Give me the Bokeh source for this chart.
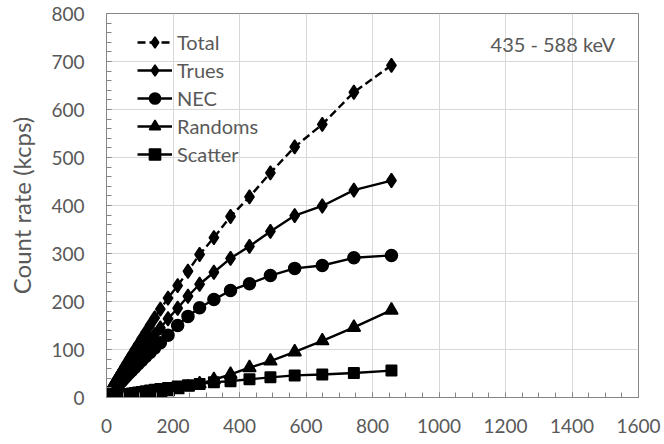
from bokeh.plotting import figure
from bokeh.models import Range1d, SingleIntervalTicker, Legend, LegendItem, Label
from bokeh.embed import file_html
from bokeh.resources import INLINE

# ---- data ----
x_vals = [857, 744, 649, 566, 493, 430, 373, 323, 280, 245, 214, 185, 162, 145, 131,
          118, 106, 95, 85, 76, 68, 61, 54, 48, 43, 38, 34, 30, 26, 23, 20, 17, 15,
          13, 11, 9, 7, 5.5, 4, 3, 2, 1]
total = [692, 636, 569, 522, 468, 418, 377, 333, 298, 263, 233, 207, 184, 166, 150.7,
         136.3, 123, 110.7, 99.5, 89.3, 80.2, 72, 64, 57.1, 51.2, 45.2, 40.6, 36, 31.2,
         27.6, 24, 20.4, 18, 15.6, 13.2, 10.8, 8.4, 6.6, 4.8, 3.6, 2.4, 1.2]
trues = [452, 432, 399, 379, 346, 315, 290, 261, 236, 211, 186, 164, 145, 131, 119,
         108, 97.5, 87.9, 79, 71, 64, 57.6, 51, 45.4, 40.7, 36.1, 32.3, 28.5, 24.7,
         21.9, 19, 16.2, 14.3, 12.4, 10.5, 8.6, 6.7, 5.2, 3.8, 2.9, 1.9, 1.0]
nec = [296, 291, 275, 269, 254, 237, 223, 204, 187, 169, 150, 129.9, 114.3, 103.4, 94,
       85.6, 77.3, 69.8, 62.7, 56.5, 51.1, 46.1, 40.6, 36.1, 32.4, 28.8, 25.7, 22.6,
       19.6, 17.4, 15, 12.9, 11.4, 9.9, 8.4, 6.8, 5.3, 4.1, 3.0, 2.3, 1.5, 0.8]
randoms = [182, 146, 118, 95, 76, 62, 48, 37, 28.5, 21.5, 16.2, 12.0, 9.2, 7.4, 6.0,
           4.9, 3.9, 3.2, 2.5, 2.0, 1.6, 1.3, 1.0, 0.8, 0.65, 0.5, 0.4, 0.32, 0.24,
           0.19, 0.14, 0.1, 0.08, 0.06, 0.04, 0.03, 0.02, 0.01, 0.01, 0.0, 0.0, 0.0]
scatter = [56, 51, 48, 46, 42, 38, 34, 32, 28, 25.5, 22.8, 20, 17.7, 15.9, 14.4, 13,
           11.7, 10.5, 9.4, 8.4, 7.5, 6.7, 5.9, 5.3, 4.7, 4.2, 3.7, 3.3, 2.9, 2.5, 2.2,
           1.9, 1.7, 1.4, 1.2, 1.0, 0.8, 0.6, 0.4, 0.3, 0.2, 0.1]
series_names = ["Total", "Trues", "NEC", "Randoms", "Scatter"]
annotation_text = "435 - 588 keV"
y_title = "Count rate (kcps)"

FONT = "Lato"
GRAY = "#595959"
AXC = "#868686"

p = figure(width=664, height=444, output_backend="svg", toolbar_location=None,
           x_range=Range1d(0, 1600), y_range=Range1d(0, 800),
           min_border_left=106, min_border_right=26, min_border_top=13,
           min_border_bottom=47)
p.background_fill_color = "white"
p.border_fill_color = "white"
p.outline_line_color = AXC
p.outline_line_width = 1

p.xaxis.ticker = SingleIntervalTicker(interval=200, num_minor_ticks=4)
p.yaxis.ticker = SingleIntervalTicker(interval=100, num_minor_ticks=5)
for ax in (p.xaxis[0], p.yaxis[0]):
    ax.axis_line_color = AXC
    ax.major_tick_line_color = AXC
    ax.minor_tick_line_color = AXC
    ax.major_tick_in = 5
    ax.major_tick_out = 0
    ax.minor_tick_in = 5
    ax.minor_tick_out = 0
    ax.major_label_text_font = FONT
    ax.major_label_text_font_size = "19px"
    ax.major_label_text_color = GRAY
p.xaxis.major_label_standoff = 21
p.yaxis.major_label_standoff = 22
p.yaxis.axis_label = y_title
p.yaxis.axis_label_text_font = FONT
p.yaxis.axis_label_text_font_size = "24px"
p.yaxis.axis_label_text_font_style = "normal"
p.yaxis.axis_label_text_color = GRAY
p.yaxis.axis_label_standoff = 12

p.xgrid.grid_line_color = "#d9d9d9"
p.ygrid.grid_line_color = "#d9d9d9"

items = []
specs = [
    (total, "8 4", "diamond", 14),
    (trues, "solid", "diamond", 14),
    (nec, "solid", "circle", 12),
    (randoms, "solid", "triangle", 13),
    (scatter, "solid", "square", 10.5),
]
for name, (ys, dash, marker, size) in zip(series_names, specs):
    ln = p.line(x_vals, ys, line_color="black", line_width=2.4, line_dash=dash)
    sc = p.scatter(x_vals, ys, marker=marker, size=size, line_width=1.5,
                   fill_color="black", line_color="black")
    items.append(LegendItem(label=name, renderers=[ln, sc]))

legend = Legend(items=items, location=(31, 229))
legend.background_fill_alpha = 0
legend.border_line_alpha = 0
legend.padding = 0
legend.margin = 0
legend.spacing = 0
legend.glyph_width = 35
legend.glyph_height = 28
legend.label_height = 22
legend.label_standoff = 5
legend.label_text_font = FONT
legend.label_text_font_size = "20px"
legend.label_text_color = GRAY
p.add_layout(legend)

p.add_layout(Label(x=1155, y=737, text=annotation_text, text_font=FONT,
                   text_font_size="20px", text_color=GRAY, text_baseline="middle"))

open("out.html", "w").write(file_html(p, INLINE))
